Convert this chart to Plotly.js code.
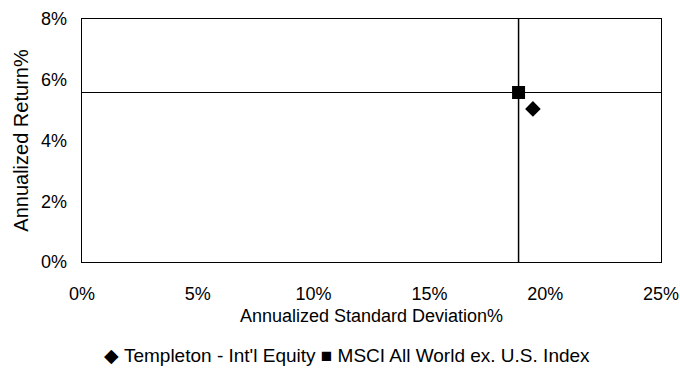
<!DOCTYPE html>
<html><head><meta charset="utf-8">
<script src="https://cdn.plot.ly/plotly-3.0.1.min.js"></script>
<style>html,body{margin:0;padding:0;background:#fff}#c{width:680px;height:377px}</style>
</head><body><div id="c"></div>
<script>
const seriesNames = ["Templeton - Int'l Equity", "MSCI All World ex. U.S. Index"];
const legendGlyphs = ["\u25C6", "\u25A0"];
const stdDev = [19.47, 18.85];
const annReturn = [5.04, 5.58];
const symbols = ["diamond", "square"];
const sizes = [12, 13];
const xTicks = [0, 5, 10, 15, 20, 25];
const yTicks = [0, 2, 4, 6, 8];

const traces = seriesNames.map((n, i) => ({
  type: 'scatter', mode: 'markers', name: n,
  x: [stdDev[i]], y: [annReturn[i]], cliponaxis: false,
  marker: {symbol: symbols[i], size: sizes[i], color: '#000'}
}));

const bx = stdDev[1], by = annReturn[1];
const legendText = seriesNames.map((n, i) => legendGlyphs[i] + ' ' + n).join(' ');
const layout = {
  width: 680, height: 377,
  margin: {l: 82, r: 19, t: 19, b: 115},
  paper_bgcolor: '#fff', plot_bgcolor: '#fff',
  font: {family: 'Liberation Sans, Arial, sans-serif', color: '#000', size: 17},
  showlegend: false,
  xaxis: {range: [0, 25.0001], tickvals: xTicks, ticktext: xTicks.map(v => v + '%'),
          showgrid: false, zeroline: false, showline: true, linecolor: '#000', linewidth: 1.3, mirror: true,
          ticks: 'outside', ticklen: 15, tickcolor: 'rgba(0,0,0,0)', tickfont: {size: 18},
          ticklabeloverflow: 'allow', automargin: false,
          title: {text: 'Annualized Standard Deviation%', font: {size: 18}, standoff: 6}},
  yaxis: {range: [0, 8.0001], tickvals: yTicks, ticktext: yTicks.map(v => v + '%'),
          showgrid: false, zeroline: false, showline: true, linecolor: '#000', linewidth: 1.3, mirror: true,
          ticks: 'outside', ticklen: 10, tickcolor: 'rgba(0,0,0,0)', tickfont: {size: 18},
          ticklabeloverflow: 'allow', automargin: false,
          title: {text: 'Annualized Return%', font: {size: 20}, standoff: 7}},
  shapes: [
    {type: 'line', xref: 'x', yref: 'paper', x0: bx, x1: bx, y0: 0, y1: 1, line: {color: '#000', width: 1.5}, layer: 'below'},
    {type: 'line', xref: 'paper', yref: 'y', x0: 0, x1: 1, y0: by, y1: by, line: {color: '#000', width: 1}, layer: 'below'}
  ],
  annotations: [
    {xref: 'paper', yref: 'paper', x: 0.457, y: -0.383, xanchor: 'center', yanchor: 'middle',
     showarrow: false, text: legendText, font: {size: 19}}
  ]
};
Plotly.newPlot('c', traces, layout, {displayModeBar: false, staticPlot: true});
</script></body></html>
